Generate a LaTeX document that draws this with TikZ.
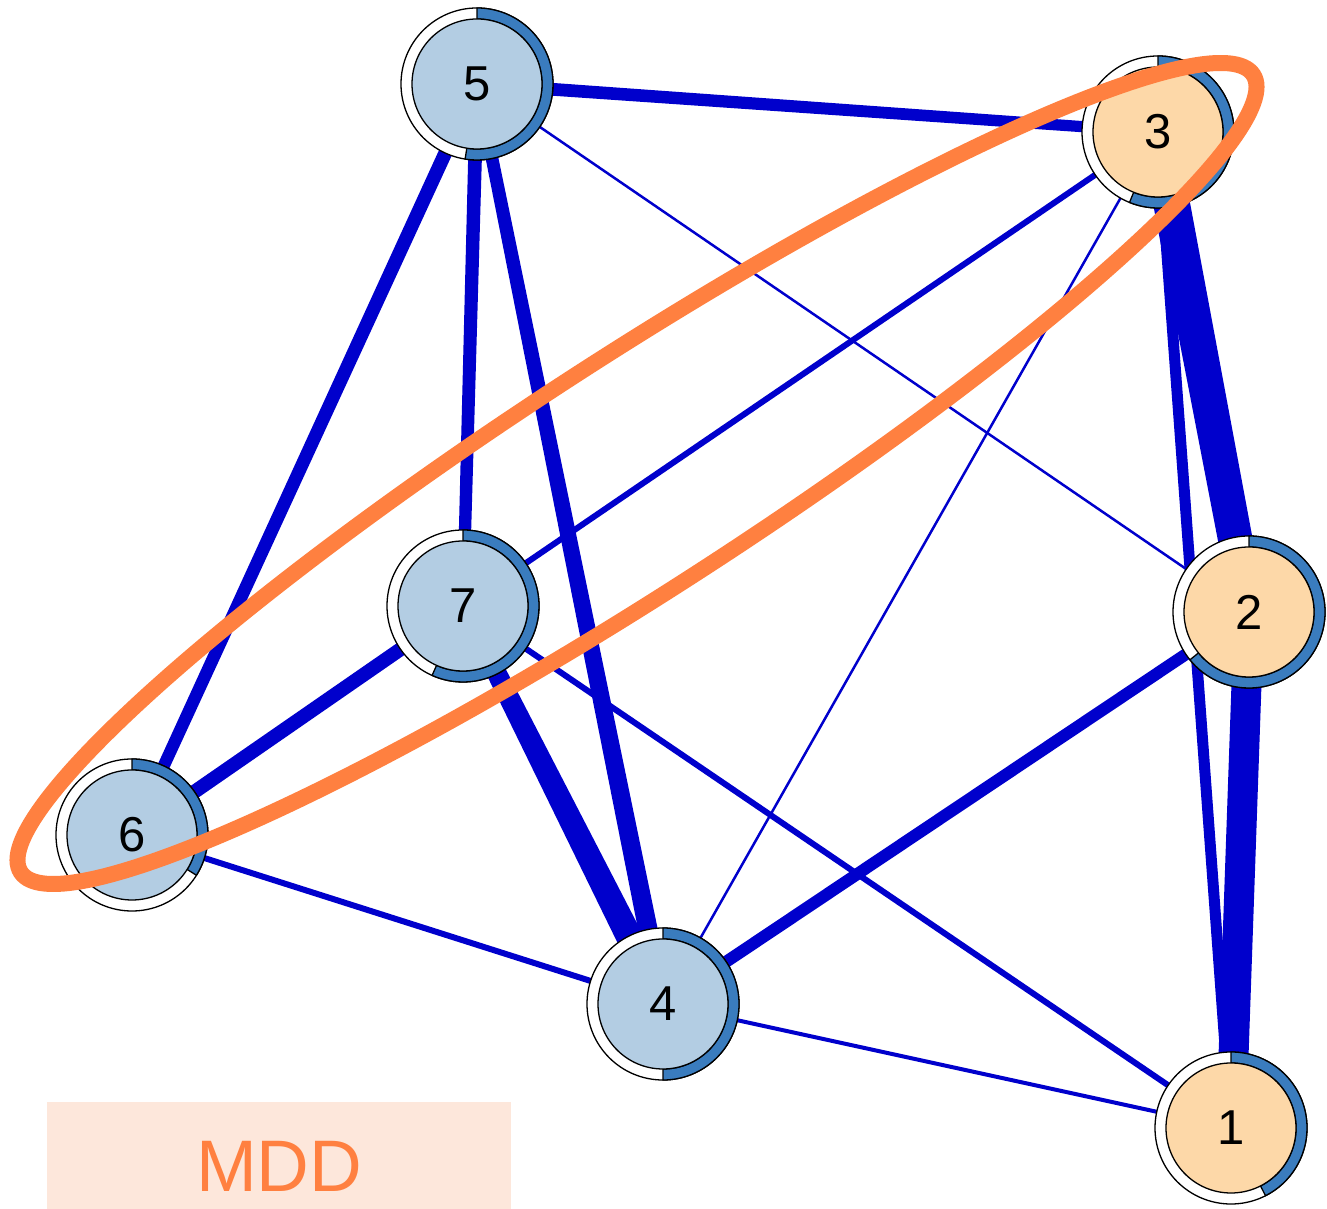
\documentclass[tikz,border=0pt]{standalone}
\usepackage{fontspec}
\setmainfont{Liberation Sans}
\usetikzlibrary{calc}
\definecolor{ringblue}{HTML}{3A7CBE}
\definecolor{lightblue}{HTML}{B3CDE3}
\definecolor{peach}{HTML}{FDD8A8}
\definecolor{edgeblue}{HTML}{0000CC}
\definecolor{grouporange}{HTML}{FF8040}
\definecolor{mddfill}{HTML}{FDE7DB}
\pgfdeclarelayer{edgelayer}
\pgfsetlayers{edgelayer,main}
\tikzset{
  ringout/.style={fill=white, draw=black, line width=1.3pt},
  ringarc/.style={fill=ringblue, draw=black, line width=1.3pt},
  nodedisk/.style={circle, draw=black, line width=1.3pt, minimum size=130pt,
    inner sep=0pt, font=\fontsize{49pt}{52pt}\selectfont},
  link/.style={fill=edgeblue},
  groupring/.style={draw=grouporange, line width=16pt},
  mddlabel/.style={fill=mddfill, inner sep=0pt, minimum width=464pt,
    text height=90pt, text depth=17pt, text=grouporange,
    font=\fontsize{73pt}{80pt}\selectfont},
}
% #1 name, #2 x, #3 y, #4 fill colour, #5 end angle of the arc, #6 label
\newcommand\netnode[6]{%
  \fill[ringout] (#2,#3) circle[radius=76pt];
  \filldraw[ringarc] (#2,#3) ++(90:76pt) arc[start angle=90, end angle=#5, radius=76pt]
    -- ++(#5:-11pt) arc[start angle=#5, end angle=90, radius=65pt] -- cycle;
  \node[nodedisk, fill=#4] (#1) at (#2,#3) {#6};
}
% tapered connector: #1 from, #2 to, #3 half width at #1, #4 half width at #2
\newcommand\tedge[4]{%
  \fill[link] ($(#1)!#3!90:(#2)$) -- ($(#2)!#4!-90:(#1)$)
    -- ($(#2)!#4!90:(#1)$) -- ($(#1)!#3!-90:(#2)$) -- cycle;
}
\begin{document}
\begin{tikzpicture}[x=1pt, y=1pt]
\useasboundingbox (0,0) rectangle (1327,1209);
\netnode{n5}{477}{1125}{lightblue}{-99}{5}
\netnode{n3}{1158}{1077}{peach}{-112}{3}
\netnode{n2}{1249}{597}{peach}{-141}{2}
\netnode{n1}{1231}{81}{peach}{-63}{1}
\netnode{n4}{663}{205}{lightblue}{-90}{4}
\netnode{n7}{463}{603}{lightblue}{-114}{7}
\netnode{n6}{132}{374}{lightblue}{-32}{6}
\begin{pgfonlayer}{edgelayer}
  \fill[white] (0,0) rectangle (1327,1209);
  \tedge{n5}{n3}{6.5pt}{5.5pt}
  \tedge{n5}{n6}{7pt}{6pt}
  \tedge{n5}{n7}{7pt}{6pt}
  \tedge{n5}{n4}{6pt}{10pt}
  \tedge{n5}{n2}{1.25pt}{1.25pt}
  \tedge{n3}{n7}{3pt}{3pt}
  \tedge{n3}{n4}{1.25pt}{1.25pt}
  \tedge{n3}{n2}{18.5pt}{17pt}
  \tedge{n3}{n1}{5.5pt}{5.5pt}
  \tedge{n2}{n1}{15pt}{15pt}
  \tedge{n2}{n4}{6pt}{6pt}
  \tedge{n7}{n6}{7pt}{7pt}
  \tedge{n7}{n4}{9pt}{14pt}
  \tedge{n7}{n1}{3pt}{3pt}
  \tedge{n6}{n4}{3pt}{3pt}
  \tedge{n4}{n1}{2pt}{2pt}
\end{pgfonlayer}
\begin{scope}[shift={(637,735.5)}, rotate=32.9]
  \draw[groupring] (0,0) ellipse[x radius=734pt, y radius=116pt];
\end{scope}
\node[mddlabel, anchor=south west] (mdd) at (47,0) {MDD};
\end{tikzpicture}
\end{document}
